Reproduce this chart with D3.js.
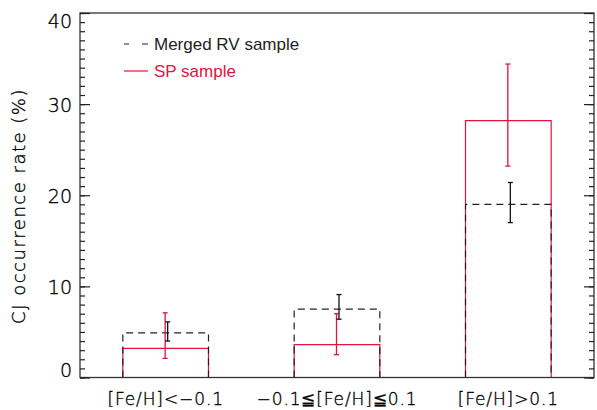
<!DOCTYPE html>
<html lang="en">
<head>
  <meta charset="UTF-8">
  <title>CJ occurrence rate</title>
  <script src="https://d3js.org/d3.v7.min.js"></script>
  <style>
    body { margin: 0; background: #fff; }
    text { font-family: "DejaVu Sans", sans-serif; }
    .thin { font-weight: 200; fill: #000; stroke: #000; stroke-width: 0.35px; }
  </style>
</head>
<body>
  <div id="chart"></div>
  <script>
    // categories and values
    var categories = ["[Fe/H]<\u22120.1", "\u22120.1\u2266[Fe/H]\u22660.1", "[Fe/H]>0.1"];
    var rvRate = [4.9, 7.5, 19.0];
    var rvLow = [4.0, 6.4, 17.0];
    var rvHigh = [6.1, 9.1, 21.4];
    var spRate = [3.2, 3.6, 28.2];
    var spLow = [2.1, 2.5, 23.2];
    var spHigh = [7.1, 7.0, 34.4];
    var yTicks = [0, 10, 20, 30, 40];

    var red = "#e3123f";
    var W = 597, H = 410;
    var margin = {top: 13, right: 3, bottom: 32.5, left: 80};
    var width = W - margin.left - margin.right,
        height = H - margin.top - margin.bottom;

    var svg = d3.select("#chart").append("svg")
        .attr("width", W)
        .attr("height", H)
      .append("g")
        .attr("transform", "translate(" + margin.left + "," + margin.top + ")");

    var x = d3.scaleBand()
        .domain(categories)
        .range([0, width])
        .paddingInner(0.5)
        .paddingOuter(0.25);

    var y = d3.scaleLinear().domain([0, 40]).range([height, 0]);

    // SP sample bars (red, solid, open boxes)
    svg.selectAll(".sp")
      .data(categories)
      .enter().append("path")
        .attr("class", "sp")
        .attr("fill", "none")
        .attr("stroke", red)
        .attr("stroke-width", 1.2)
        .attr("d", function(d, i) {
          var x0 = x(d), x1 = x(d) + x.bandwidth();
          return "M" + x0 + "," + y(0) + "V" + y(spRate[i]) + "H" + x1 + "V" + y(0);
        });

    // Merged RV bars (black, dashed)
    svg.selectAll(".rv")
      .data(categories)
      .enter().append("path")
        .attr("class", "rv")
        .attr("fill", "none")
        .attr("stroke", "#222")
        .attr("stroke-width", 1.2)
        .attr("stroke-dasharray", "7,5")
        .attr("d", function(d, i) {
          var x0 = x(d), x1 = x(d) + x.bandwidth();
          return "M" + x0 + "," + y(0) + "V" + y(rvRate[i]) + "H" + x1 + "V" + y(0);
        });

    // error bars
    function errorBars(cls, low, high, dx, color) {
      var g = svg.selectAll("." + cls)
        .data(categories)
        .enter().append("g")
          .attr("class", cls)
          .attr("stroke", color)
          .attr("stroke-width", 1.3);
      g.append("line")
        .attr("x1", function(d) { return x(d) + x.bandwidth() / 2 + dx; })
        .attr("x2", function(d) { return x(d) + x.bandwidth() / 2 + dx; })
        .attr("y1", function(d, i) { return y(low[i]); })
        .attr("y2", function(d, i) { return y(high[i]); });
      [low, high].forEach(function(arr) {
        g.append("line")
          .attr("x1", function(d) { return x(d) + x.bandwidth() / 2 + dx - 2.5; })
          .attr("x2", function(d) { return x(d) + x.bandwidth() / 2 + dx + 2.5; })
          .attr("y1", function(d, i) { return y(arr[i]); })
          .attr("y2", function(d, i) { return y(arr[i]); });
      });
    }
    errorBars("sperr", spLow, spHigh, -0.5, red);
    errorBars("rverr", rvLow, rvHigh, 2, "#111");

    // frame
    svg.append("rect")
      .attr("width", width)
      .attr("height", height)
      .attr("fill", "none")
      .attr("stroke", "#333")
      .attr("stroke-width", 1.3);

    // y axis left (ticks inward) with minor ticks
    var minor = d3.range(0, 41, 1);
    svg.append("g")
      .call(d3.axisRight(y).tickValues(minor).tickSize(5).tickFormat(""))
      .call(function(g) { g.select(".domain").remove(); });
    svg.append("g")
      .call(d3.axisRight(y).tickValues(yTicks).tickSize(10).tickFormat(""))
      .call(function(g) { g.select(".domain").remove(); });
    // right side
    svg.append("g")
      .attr("transform", "translate(" + width + ",0)")
      .call(d3.axisLeft(y).tickValues(minor).tickSize(5).tickFormat(""))
      .call(function(g) { g.select(".domain").remove(); });
    svg.append("g")
      .attr("transform", "translate(" + width + ",0)")
      .call(d3.axisLeft(y).tickValues(yTicks).tickSize(10).tickFormat(""))
      .call(function(g) { g.select(".domain").remove(); });
    svg.selectAll(".tick line").attr("stroke", "#222").attr("stroke-width", 1.2);

    // y tick labels
    var yl = svg.append("g")
      .call(d3.axisLeft(y).tickValues(yTicks).tickSize(0).tickPadding(8))
      .call(function(g) { g.select(".domain").remove(); });
    yl.selectAll("text")
      .attr("class", "thin")
      .style("font-size", "19px")
      .attr("dy", function(d) { return d === 0 ? "-0.05em" : d === 40 ? "0.75em" : "0.38em"; });

    // x category labels
    var xl = svg.append("g")
      .attr("transform", "translate(0," + height + ")")
      .call(d3.axisBottom(x).tickSize(0).tickPadding(15))
      .call(function(g) { g.select(".domain").remove(); });
    xl.selectAll("text")
      .attr("class", "thin")
      .style("font-size", "17px")
      .style("letter-spacing", "0.9px");

    // y axis title
    svg.append("text")
      .attr("class", "thin")
      .attr("transform", "rotate(-90)")
      .attr("x", -193)
      .attr("y", -55)
      .attr("text-anchor", "middle")
      .style("font-size", "18px")
      .style("letter-spacing", "1.5px")
      .text("CJ occurrence rate (%)");

    // legend
    var legend = svg.append("g").attr("transform", "translate(44,31)");
    legend.append("line")
      .attr("x1", 0).attr("x2", 24).attr("y1", 0).attr("y2", 0)
      .attr("stroke", "#222").attr("stroke-width", 1.2)
      .attr("stroke-dasharray", "5,13,6");
    legend.append("text")
      .attr("x", 30).attr("y", 6)
      .style("font-family", "Liberation Sans, Arial, sans-serif")
      .style("font-size", "17px")
      .attr("fill", "#222")
      .text("Merged RV sample");
    legend.append("line")
      .attr("x1", 0).attr("x2", 24).attr("y1", 27).attr("y2", 27)
      .attr("stroke", red).attr("stroke-width", 1.2);
    legend.append("text")
      .attr("x", 30).attr("y", 33)
      .style("font-family", "Liberation Sans, Arial, sans-serif")
      .style("font-size", "17px")
      .attr("fill", red)
      .text("SP sample");
  </script>
</body>
</html>
